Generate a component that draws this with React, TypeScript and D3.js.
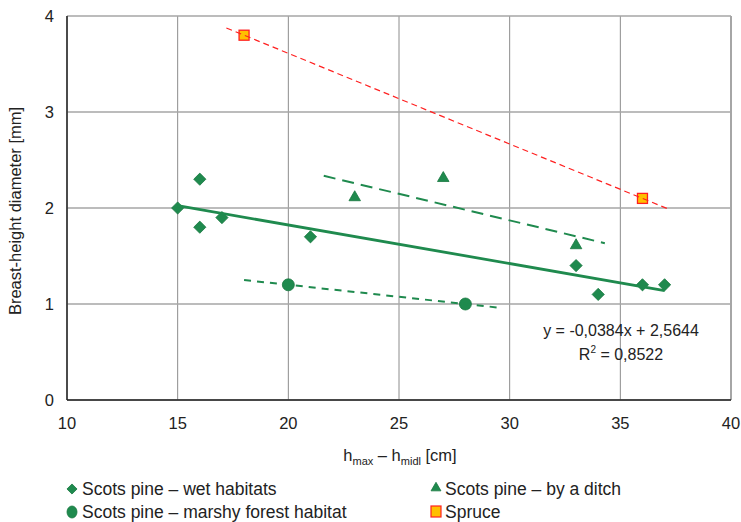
import React from "react";
import * as d3 from "d3";

const W = 741;
const H = 522;
const M = { left: 67, right: 10, top: 16, bottom: 122 };

const xTicks = [10, 15, 20, 25, 30, 35, 40];
const yTicks = [0, 1, 2, 3, 4];

const wetX = [15, 16, 16, 17, 21, 33, 34, 36, 37];
const wetY = [2.0, 2.3, 1.8, 1.9, 1.7, 1.4, 1.1, 1.2, 1.2];
const ditchX = [23, 27, 33];
const ditchY = [2.1, 2.3, 1.6];
const marshX = [20, 28];
const marshY = [1.2, 1.0];
const spruceX = [18, 36];
const spruceY = [3.8, 2.1];

// trendline forecast (backward, forward) in x units
const wetForecast = [0, 0];
const ditchForecast = [1.4, 1.3];
const marshForecast = [2, 1.5];
const spruceForecast = [0.8, 1.1];

const GREEN = "#1f8a4e";
const GREEN_DARK = "#17773f";

function regress(xs: number[], ys: number[]) {
  const n = xs.length;
  const mx = d3.mean(xs)!;
  const my = d3.mean(ys)!;
  let sxy = 0, sxx = 0;
  for (let i = 0; i < n; i++) {
    sxy += (xs[i] - mx) * (ys[i] - my);
    sxx += (xs[i] - mx) ** 2;
  }
  const b = sxy / sxx;
  return { b, a: my - b * mx };
}

export default function App() {
  const x = d3.scaleLinear().domain([10, 40]).range([M.left, W - M.right]);
  const y = d3.scaleLinear().domain([0, 4]).range([H - M.bottom, M.top]);
  const font = "Liberation Sans, Arial, sans-serif";

  const trend = (xs: number[], ys: number[], fc: number[]) => {
    const { a, b } = regress(xs, ys);
    const x0 = d3.min(xs)! - fc[0];
    const x1 = d3.max(xs)! + fc[1];
    return d3.line<number>().x((v) => x(v)).y((v) => y(a + b * v))([x0, x1])!;
  };

  const diamond = d3.symbol().type(d3.symbolDiamond2).size(95)()!;
  const triangle = d3.symbol().type(d3.symbolTriangle2).size(95)()!;

  return (
    <svg width={W} height={H} style={{ position: "absolute", left: 0, top: 0 }} fontFamily={font}>
      <rect width={W} height={H} fill="#fff" />
      {/* grid */}
      {xTicks.map((t) => (
        <line key={"gx" + t} x1={x(t)} x2={x(t)} y1={y(0)} y2={y(4)} stroke="#8c8c8c" strokeWidth={1} />
      ))}
      {yTicks.map((t) => (
        <line key={"gy" + t} x1={x(10)} x2={x(40)} y1={y(t)} y2={y(t)} stroke="#a6a6a6" strokeWidth={1.5} />
      ))}
      <line x1={x(40)} x2={x(40)} y1={y(0)} y2={y(4)} stroke="#a6a6a6" strokeWidth={2} />
      {/* axes */}
      <line x1={x(10)} x2={x(10)} y1={y(0)} y2={y(4)} stroke="#222" strokeWidth={1.5} />
      <line x1={x(10)} x2={x(40)} y1={y(0)} y2={y(0)} stroke="#222" strokeWidth={1.5} />
      {xTicks.map((t) => (
        <text key={"tx" + t} x={x(t)} y={429} textAnchor="middle" fontSize={16.5} fill="#222">{t}</text>
      ))}
      {yTicks.map((t) => (
        <text key={"ty" + t} x={54} y={y(t) + 6} textAnchor="end" fontSize={16.5} fill="#222">{t}</text>
      ))}
      <text x={400} y={461} textAnchor="middle" fontSize={16.5} fill="#222">
        h<tspan fontSize={11} dy={4}>max</tspan>
        <tspan dy={-4}> – h</tspan>
        <tspan fontSize={11} dy={4}>midl</tspan>
        <tspan dy={-4}> [cm]</tspan>
      </text>
      <text transform={`translate(21,${y(2) + 3}) rotate(-90)`} textAnchor="middle" fontSize={16.5} fill="#222">
        Breast-height diameter [mm]
      </text>

      {/* markers */}
      {wetX.map((v, i) => (
        <path key={"w" + i} d={diamond} transform={`translate(${x(v)},${y(wetY[i])})`} fill={GREEN} stroke={GREEN_DARK} strokeWidth={0.8} />
      ))}
      {ditchX.map((v, i) => (
        <path key={"d" + i} d={triangle} transform={`translate(${x(v)},${y(ditchY[i]) - 1})`} fill={GREEN} stroke={GREEN_DARK} strokeWidth={0.8} />
      ))}
      {marshX.map((v, i) => (
        <circle key={"m" + i} cx={x(v)} cy={y(marshY[i])} r={6} fill={GREEN} stroke={GREEN_DARK} strokeWidth={0.8} />
      ))}
      {spruceX.map((v, i) => (
        <rect key={"s" + i} x={x(v) - 5} y={y(spruceY[i]) - 5} width={10} height={10} fill="#ffc000" stroke="#ff2020" strokeWidth={1.3} />
      ))}

      {/* trendlines */}
      <path d={trend(wetX, wetY, wetForecast)} stroke={GREEN} strokeWidth={2.8} fill="none" />
      <path d={trend(ditchX, ditchY, ditchForecast)} stroke={GREEN} strokeWidth={2} fill="none" strokeDasharray="12 7" />
      <path d={trend(marshX, marshY, marshForecast)} stroke={GREEN} strokeWidth={2} fill="none" strokeDasharray="7 6" />
      <path d={trend(spruceX, spruceY, spruceForecast)} stroke="#ff2020" strokeWidth={1.2} fill="none" strokeDasharray="6 4" />

      <text x={621} y={336} textAnchor="middle" fontSize={16} fill="#222">y = -0,0384x + 2,5644</text>
      <text x={621} y={360} textAnchor="middle" fontSize={16} fill="#222">
        R<tspan fontSize={10} dy={-7}>2</tspan><tspan dy={7}> = 0,8522</tspan>
      </text>

      {/* legend */}
      <g fontSize={17.5} fill="#222">
        <path d={d3.symbol().type(d3.symbolDiamond2).size(65)()!} transform="translate(72,489)" fill={GREEN} stroke={GREEN_DARK} strokeWidth={0.8} />
        <text x={82} y={495}>Scots pine – wet habitats</text>
        <path d={d3.symbol().type(d3.symbolTriangle2).size(70)()!} transform="translate(436,488)" fill={GREEN} stroke={GREEN_DARK} strokeWidth={0.8} />
        <text x={445} y={495}>Scots pine – by a ditch</text>
        <ellipse cx={72} cy={512} rx={5} ry={6} fill={GREEN} stroke={GREEN_DARK} strokeWidth={0.8} />
        <text x={82} y={518}>Scots pine – marshy forest habitat</text>
        <rect x={431} y={506} width={10} height={11} fill="#ffc000" stroke="#ff2020" strokeWidth={1.2} />
        <text x={445} y={518}>Spruce</text>
      </g>
    </svg>
  );
}
